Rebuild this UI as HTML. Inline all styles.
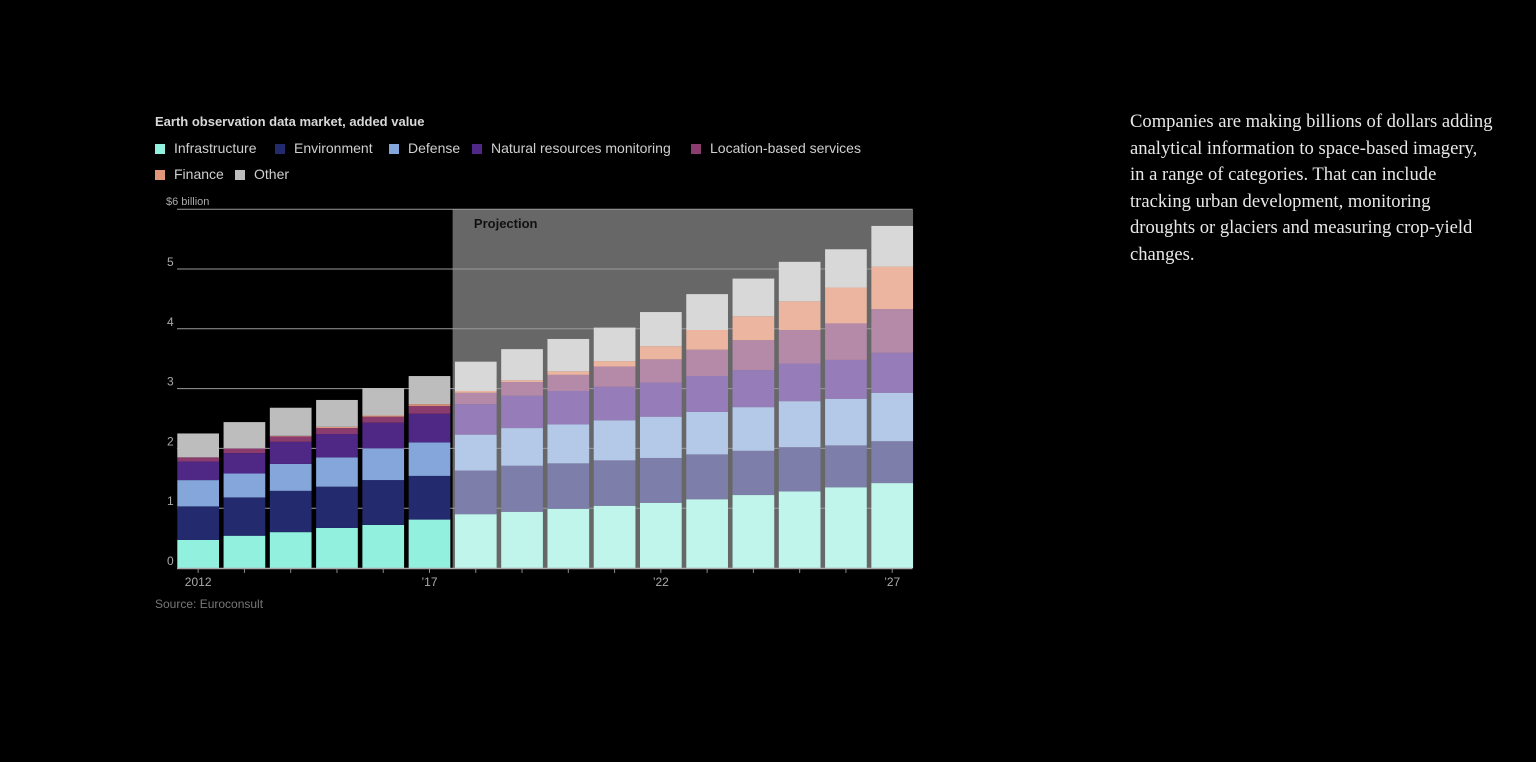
<!DOCTYPE html>
<html><head><meta charset="utf-8"><style>
body{margin:0;background:#000;width:1536px;height:762px;overflow:hidden;font-family:"Liberation Sans",sans-serif;}
#title{position:absolute;left:155px;top:114px;font-size:13px;font-weight:bold;color:#d8d8d8;}
.leg{position:absolute;font-size:14px;color:#cfcfcf;white-space:nowrap;}
.leg span.sw{display:inline-block;width:10px;height:10px;margin-right:9px;vertical-align:-1px;}
#note{position:absolute;left:1130px;top:109px;width:364px;font-family:"Liberation Serif",serif;font-size:18.6px;line-height:26.5px;color:#e8e8e8;}
#src{position:absolute;left:155px;top:597px;font-size:12px;color:#777;}
</style></head><body>
<div id="title">Earth observation data market, added value</div>
<div id="legend"></div>
<svg id="chart" width="1536" height="762" style="position:absolute;left:0;top:0"></svg>
<div id="src">Source: Euroconsult</div>
<div id="note">Companies are making billions of dollars adding analytical information to space-based imagery, in a range of categories. That can include tracking urban development, monitoring droughts or glaciers and measuring crop-yield changes.</div>
<script>
const years=[2012,2013,2014,2015,2016,2017,2018,2019,2020,2021,2022,2023,2024,2025,2026,2027];
const seriesNames=["Infrastructure","Environment","Defense","Natural resources monitoring","Location-based services","Finance","Other"];
const infrastructure=[0.47,0.54,0.60,0.67,0.72,0.81,0.90,0.94,0.99,1.04,1.09,1.15,1.22,1.28,1.35,1.42];
const environment=[0.56,0.64,0.69,0.69,0.75,0.73,0.73,0.77,0.76,0.76,0.75,0.75,0.74,0.74,0.70,0.70];
const defense=[0.44,0.40,0.45,0.49,0.53,0.56,0.60,0.63,0.65,0.67,0.69,0.71,0.73,0.77,0.78,0.81];
const naturalResources=[0.31,0.34,0.37,0.39,0.43,0.48,0.51,0.54,0.56,0.56,0.57,0.60,0.62,0.63,0.65,0.67];
const locationBased=[0.07,0.08,0.09,0.10,0.10,0.13,0.19,0.23,0.27,0.34,0.39,0.44,0.50,0.56,0.61,0.73];
const finance=[0,0,0.01,0.02,0.02,0.03,0.03,0.03,0.06,0.09,0.22,0.33,0.40,0.48,0.60,0.71];
const other=[0.40,0.44,0.47,0.45,0.46,0.47,0.49,0.52,0.54,0.56,0.57,0.60,0.63,0.66,0.64,0.68];
const yTicks=[0,1,2,3,4,5,6];
const yTickLabels=["0","1","2","3","4","5","$6 billion"];
const xLabelYears=[2012,2017,2022,2027];
const xLabels=["2012","\u201917","\u201922","\u201927"];
const projectionStart=2018;

const series=[infrastructure,environment,defense,naturalResources,locationBased,finance,other];
const histColors=["#92f0de","#232a6e","#84a6da","#4f2785","#8a3c6e","#e0967a","#bdbdbd"];
const projColors=["#bff5ea","#7d7ea9","#b4c8e8","#967dba","#b48aa8","#ebb59f","#d8d8d8"];
const ns="http://www.w3.org/2000/svg";
const svg=document.getElementById('chart');
const X0=177.3,STEP=46.27,BW=41.7,Y0=568,PX=59.8;
const xs=i=>X0+i*STEP;
const ys=v=>Y0-v*PX;
function mk(t,a){const e=document.createElementNS(ns,t);for(const k in a)e.setAttribute(k,a[k]);svg.appendChild(e);return e;}
const pi=years.indexOf(projectionStart);
const bg=mk('rect',{x:xs(pi)-2.3,y:ys(6),width:xs(years.length-1)+BW-xs(pi)+2.3,height:ys(0)-ys(6),fill:'#676767'});


const pt=mk('text',{x:xs(pi)+19,y:ys(6)+19,fill:'#111','font-size':13,'font-weight':'bold'});
pt.textContent='Projection';


yTicks.forEach((t,i)=>{
  if(t>0){const g=mk('line',{x1:177,x2:912.5,y1:ys(t),y2:ys(t),stroke:'#9a9a9a','stroke-width':1});
  
  }
  const tx=mk('text',{x:i==6?166:167,y:ys(t)-(i==6?4:3),fill:'#aaa','font-size':i==6?11:12});
  tx.textContent=yTickLabels[i];
  
  
});
years.forEach((yr,i)=>{
  let cum=0;const proj=yr>=projectionStart;
  series.forEach((s,k)=>{
    const v=s[i];if(v<=0){return;}
    const r=mk('rect',{x:xs(i),y:ys(cum+v),width:BW,height:v*PX,fill:(proj?projColors:histColors)[k]});
    
    
    cum+=v;
  });
  const tk=mk('line',{x1:xs(i)+BW/2,x2:xs(i)+BW/2,y1:Y0,y2:Y0+5,stroke:'#888'});
  
  
});
const ax=mk('line',{x1:177,x2:912.5,y1:Y0+0.5,y2:Y0+0.5,stroke:'#aaa','stroke-width':1.5});


xLabelYears.forEach((yr,j)=>{
  const i=years.indexOf(yr);
  const t=mk('text',{x:xs(i)+BW/2,y:Y0+18,fill:'#aaa','font-size':12,'text-anchor':'middle'});
  t.textContent=xLabels[j];
  
  
});
const lg=document.getElementById('legend');
const pos=[[155,140],[275,140],[389,140],[472,140],[691,140],[155,166],[235,166]];
seriesNames.forEach((n,k)=>{
  const d=document.createElement('div');d.className='leg';
  d.style.left=pos[k][0]+'px';d.style.top=pos[k][1]+'px';
  d.innerHTML='<span class="sw" style="background:'+histColors[k]+'"></span>'+n;
  
  
  lg.appendChild(d);
});
</script>
</body></html>
